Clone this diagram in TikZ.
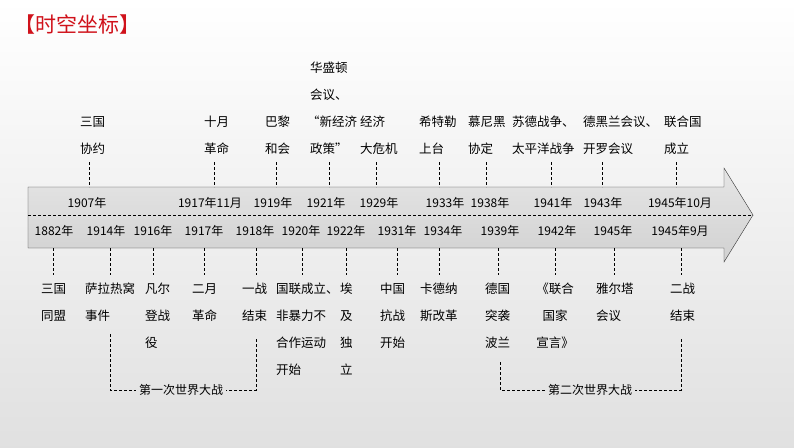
\documentclass[tikz,border=0pt]{standalone}
\usepackage{fontspec}
\setmainfont{Noto Sans CJK SC}
\usetikzlibrary{positioning}
\definecolor{titlered}{HTML}{D0121B}
\tikzset{
  year/.style={font=\fontsize{12}{12}\selectfont, inner sep=0pt},
  event/.style={font=\fontsize{12.5}{27}\selectfont, align=left, anchor=north west, inner sep=0pt},
  tick/.style={dashed, thin, dash pattern=on 3pt off 2pt},
}
\begin{document}
\begin{tikzpicture}[x=1pt, y=-1pt]
\useasboundingbox (0,0) rectangle (794,447);
\shade[top color=white, bottom color=black!12] (0,0) rectangle (794,447);
\node[font=\fontsize{21}{22}\selectfont, text=titlered, anchor=west, inner sep=0pt] (title) at (14,25) {【时空坐标】};
%bar
\draw[top color=black!10, bottom color=black!18, middle color=black!14, thin, draw=black!80]
  (28,187) -- (724,187) -- (724,168) -- (753,215) -- (724,262) -- (724,248) -- (28,248) -- cycle;
\draw[tick] (28,215) coordinate (ml) -- (753,215) coordinate (mr);
%upper years
\foreach \x/\t in {87/1907年, 210/1917年11月, 273/1919年, 326/1921年, 379/1929年, 445/1933年, 490/1938年, 553/1941年, 603/1943年, 680/1945年10月}
  \node[year] (uy\x) at (\x,203) {\t};
%lower years
\foreach \x/\t in {54/1882年, 106/1914年, 153/1916年, 204/1917年, 255/1918年, 301/1920年, 346/1922年, 397/1931年, 443/1934年, 500/1939年, 557/1942年, 613/1945年, 680/1945年9月}
  \node[year] (ly\x) at (\x,231) {\t};
%upper ticks
\foreach \x in {89,214,276,329,376,439,486,551,602,676} {
  \coordinate (ta\x) at (\x,162); \coordinate (tb\x) at (\x,187);
  \draw[tick] (ta\x) -- (tb\x);
}
%lower ticks
\foreach \x in {53,110,153,204,256,302,346,397,439,498,555,614,681} {
  \coordinate (ba\x) at (\x,248); \coordinate (bb\x) at (\x,275);
  \draw[tick] (ba\x) -- (bb\x);
}
%upper events
\foreach \x/\y/\t in {80/116/三国\\协约, 204/116/十月\\革命, 265/116/巴黎\\和会, 307/62/\ 华盛顿\\\ 会议、\\“新经济\\\ 政策”, 360/116/经济\\大危机, 419/116/希特勒\\上台, 468/116/慕尼黑\\协定, 512/116/苏德战争、\\太平洋战争, 583/116/德黑兰会议、\\开罗会议, 664/116/联合国\\成立}
  \node[event] (ue\x) at (\x,\y) {\t};
%lower events
\foreach \x/\t in {41/三国\\同盟, 85/萨拉热窝\\事件, 145/凡尔\\登战\\役, 192/二月\\革命, 242/一战\\结束, 276/国联成立、\\非暴力不\\合作运动\\开始, 340/埃\\及\\独\\立, 380/中国\\抗战\\开始, 420/卡德纳\\斯改革, 485/德国\\突袭\\波兰, 596/雅尔塔\\会议, 670/二战\\结束}
  \node[event] (le\x) at (\x,283) {\t};
\node[event, align=center, anchor=north] (le555) at (555,283) {《联合\\国家\\宣言》};
%wars
\node[year, inner xsep=3pt] (ww1) at (181,390) {第一次世界大战};
\node[year, inner xsep=3pt] (ww2) at (590,390) {第二次世界大战};
\coordinate (w1a) at (110,334); \coordinate (w1b) at (256,339);
\coordinate (w2a) at (500,362); \coordinate (w2b) at (681,339);
\draw[tick] (w1a) |- (ww1.west);
\draw[tick] (w1b) |- (ww1.east);
\draw[tick] (w2a) |- (ww2.west);
\draw[tick] (w2b) |- (ww2.east);
\end{tikzpicture}
\end{document}
